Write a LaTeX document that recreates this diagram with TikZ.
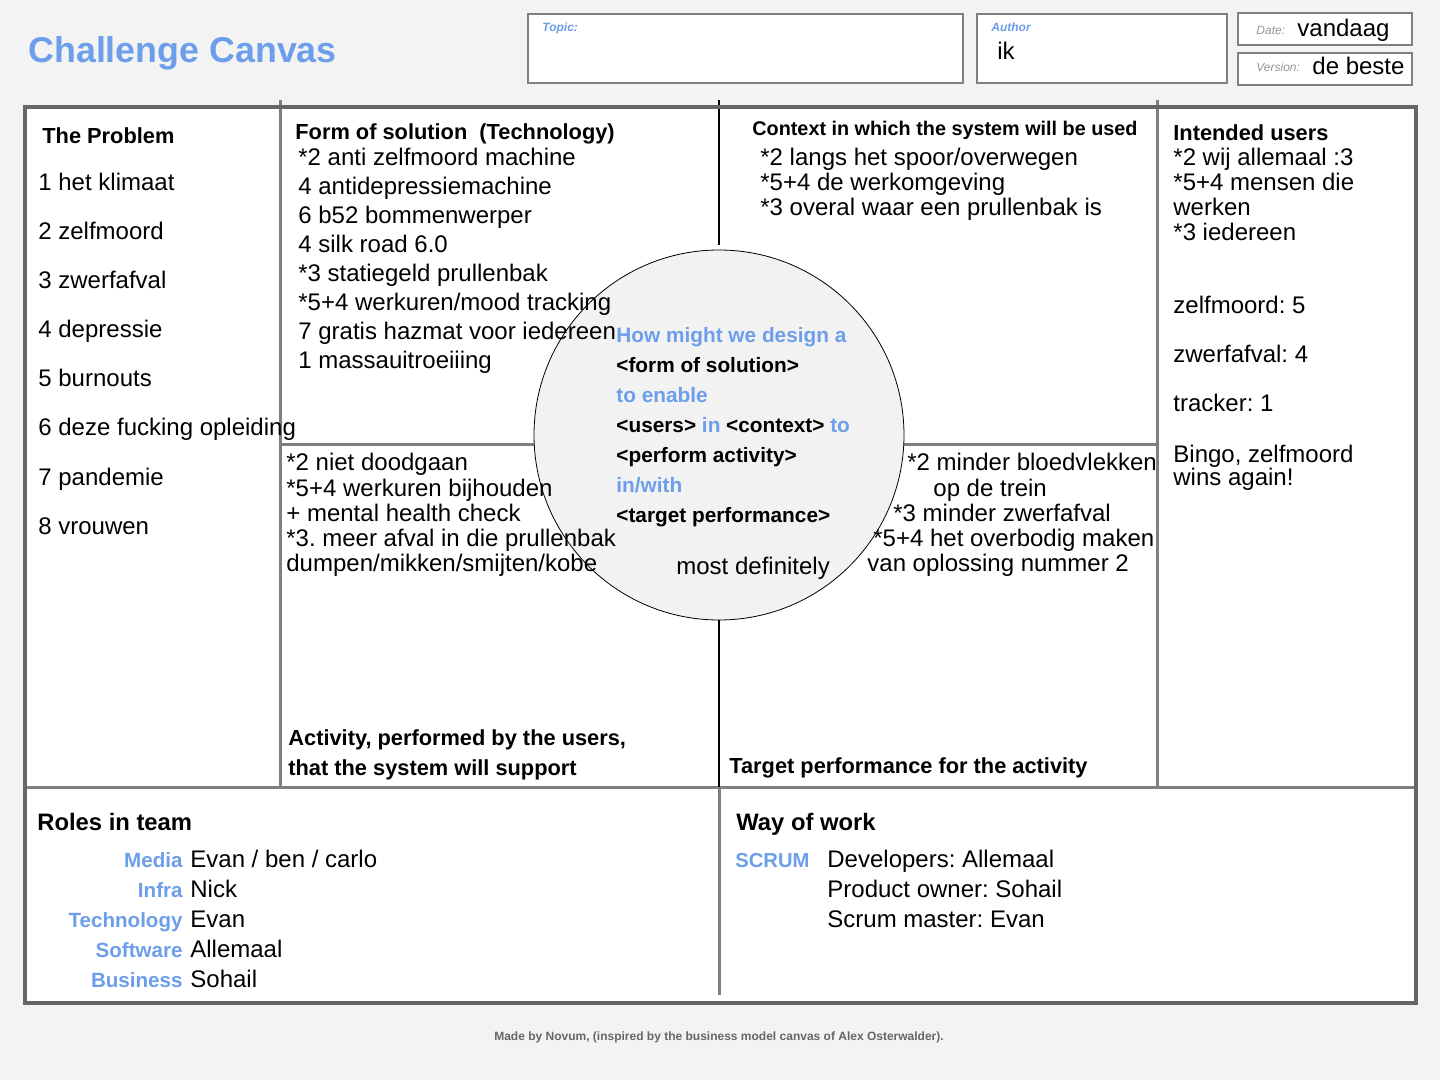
\documentclass[tikz,border=0pt]{standalone}
\usepackage{fontspec}
\setmainfont{Liberation Sans}
\usepackage{xcolor}
\usetikzlibrary{positioning}
\frenchspacing
\definecolor{canvasBlue}{RGB}{109,158,235}
\definecolor{canvasBg}{RGB}{243,243,243}
\definecolor{frameGray}{RGB}{102,102,102}
\definecolor{lineGray}{RGB}{128,128,128}
\definecolor{labelGray}{RGB}{150,150,150}
\definecolor{circleFill}{RGB}{242,242,242}
\tikzset{
  txt/.style={anchor=base west, inner sep=0pt, font=\fontsize{12pt}{14pt}\selectfont},
  head/.style={anchor=base west, inner sep=0pt, font=\fontsize{10.9pt}{13pt}\selectfont\bfseries},
  hmw/.style={anchor=base west, inner sep=0pt, font=\fontsize{10.4pt}{12pt}\selectfont\bfseries},
  role/.style={anchor=base east, inner sep=0pt, text=canvasBlue, font=\fontsize{10.3pt}{12pt}\selectfont\bfseries},
  tag/.style={anchor=base west, inner sep=0pt, font=\fontsize{6pt}{7pt}\selectfont\itshape},
  gridline/.style={line width=1.5pt, lineGray},
  thinline/.style={line width=0.6pt, black},
  infobox/.style={fill=white, draw=lineGray, line width=1pt},
}
\begin{document}
\begin{tikzpicture}[x=0.5pt, y=-0.5pt]
    \useasboundingbox (0,0) rectangle (1440,1080);
    \fill[canvasBg] (0,0) rectangle (1440,1080);
    % Header
    \node[anchor=base west, inner sep=0pt, text=canvasBlue, font=\fontsize{17.9pt}{20pt}\selectfont\bfseries] (title) at (28,63) {Challenge Canvas};
    \draw[infobox] (528,14) rectangle (963,83);
    \node[tag, font=\fontsize{6pt}{7pt}\selectfont\bfseries\itshape, text=canvasBlue] (topicLbl) at (542,32) {Topic:};
    \draw[infobox] (977,14) rectangle (1227,83);
    \node[tag, font=\fontsize{6pt}{7pt}\selectfont\bfseries\itshape, text=canvasBlue] (authorLbl) at (991,32) {Author};
    \node[txt] (authorName) at (997,60) {ik};
    \draw[infobox] (1238,13) rectangle (1412,45);
    \node[tag, text=labelGray] (dateLbl) at (1256,35) {Date:};
    \node[txt] (dateVal) at (1297,37) {vandaag};
    \draw[infobox] (1238,53) rectangle (1412,85);
    \node[tag, text=labelGray] (versionLbl) at (1256,72) {Version:};
    \node[txt] (versionVal) at (1312,75) {de beste};
    % Canvas
    \fill[white] (25,107) rectangle (1416,1003);
    \draw[gridline] (280,100) -- (280,787);
    \draw[gridline] (1157,100) -- (1157,787);
    \draw[gridline] (25,787) -- (1416,787);
    \draw[gridline] (280,445) -- (536,445);
    \draw[gridline] (903,445) -- (1157,445);
    \draw[gridline] (719,787) -- (719,995);
    \node[circle, draw, thin, fill=circleFill, minimum size=185pt, inner sep=0pt] (hmwCircle) at (719,435) {};
    \draw[thinline, shorten >=2.5pt] (719,100) -- (hmwCircle.north);
    \draw[thinline] (hmwCircle.south) -- (719,787);
    \draw[line width=2pt, frameGray] (25,107) rectangle (1416,1003);
    % The problem
    \node[head] (problemHead) at (42,144) {The Problem};
    \foreach \entry [count=\i] in {1 het klimaat, 2 zelfmoord, 3 zwerfafval, 4 depressie, 5 burnouts, 6 deze fucking opleiding, 7 pandemie, 8 vrouwen}
      \node[txt] (prob\i) at (38,{142+49*\i}) {\entry};
    % Form of solution
    \node[head] (formHead) at (295,140) {Form of solution~ (Technology)};
    \foreach \entry [count=\i] in {*2 anti zelfmoord machine, 4 antidepressiemachine, 6 b52 bommenwerper, 4 silk road 6.0, *3 statiegeld prullenbak, *5+4 werkuren/mood tracking, 7 gratis hazmat voor iedereen, 1 massauitroeiiing}
      \node[txt] (form\i) at (298,{137+29*\i}) {\entry};
    % Context
    \node[head, font=\fontsize{9.9pt}{11pt}\selectfont\bfseries] (contextHead) at (752,136) {Context in which the system will be used};
    \foreach \entry [count=\i] in {*2 langs het spoor/overwegen, *5+4 de werkomgeving, *3 overal waar een prullenbak is}
      \node[txt] (context\i) at (760,{141+25*\i}) {\entry};
    % Intended users
    \node[head] (usersHead) at (1173,141) {Intended users};
    \foreach \entry [count=\i] in {*2 wij allemaal :3, *5+4 mensen die, werken, *3 iedereen}
      \node[txt] (users\i) at (1173,{141+25*\i}) {\entry};
    \node[txt] (score1) at (1173,314) {zelfmoord: 5};
    \node[txt] (score2) at (1173,363) {zwerfafval: 4};
    \node[txt] (score3) at (1173,412) {tracker: 1};
    \node[txt] (bingo1) at (1173,462) {Bingo, zelfmoord};
    \node[txt] (bingo2) at (1173,486) {wins again!};
    % Activity
    \foreach \entry [count=\i] in {*2 niet doodgaan, *5+4 werkuren bijhouden, + mental health check, *3. meer afval in die prullenbak, dumpen/mikken/smijten/kobe}
      \node[txt] (activity\i) at (286,{446+25*\i}) {\entry};
    \node[head] (activityHead1) at (288,745) {Activity, performed by the users,};
    \node[head] (activityHead2) at (288,775) {that the system will support};
    % Target performance
    \node[txt] (target1) at (907,471) {*2 minder bloedvlekken};
    \node[txt] (target2) at (933,496) {op de trein};
    \node[txt] (target3) at (893,521) {*3 minder zwerfafval};
    \node[txt] (target4) at (873,546) {*5+4 het overbodig maken};
    \node[txt] (target5) at (867,571) {van oplossing nummer 2};
    \node[head] (targetHead) at (729,773) {Target performance for the activity};
    % How might we
    \foreach \entry [count=\i] in {\textcolor{canvasBlue}{How might we design a}, <form of solution>, \textcolor{canvasBlue}{to enable}, <users> \textcolor{canvasBlue}{in} <context> \textcolor{canvasBlue}{to}, <perform activity>, \textcolor{canvasBlue}{in/with}, <target performance>}
      \node[hmw] (hmw\i) at (616,{313+30*\i}) {\entry};
    \node[txt] (definitely) at (676,574) {most definitely};
    % Roles in team
    \node[head, font=\fontsize{11.9pt}{14pt}\selectfont\bfseries] (rolesHead) at (37,830) {Roles in team};
    \foreach \role/\who [count=\i] in {Media/{Evan / ben / carlo}, Infra/Nick, Technology/Evan, Software/Allemaal, Business/Sohail} {
      \node[role] (role\i) at (183,{837+30*\i}) {\role};
      \node[txt] (member\i) at (190,{837+30*\i}) {\who};
    }
    % Way of work
    \node[head, font=\fontsize{11.9pt}{14pt}\selectfont\bfseries] (workHead) at (736,830) {Way of work};
    \node[hmw, font=\fontsize{10.1pt}{12pt}\selectfont\bfseries, text=canvasBlue] (scrum) at (735,867) {SCRUM};
    \foreach \entry [count=\i] in {Developers: Allemaal, Product owner: Sohail, Scrum master: Evan}
      \node[txt] (scrum\i) at (827,{837+30*\i}) {\entry};
    % Credit
    \node[anchor=base, inner sep=0pt, text=frameGray, font=\fontsize{6pt}{7pt}\selectfont\bfseries] (credit) at (719,1040) {Made by Novum, (inspired by the business model canvas of Alex Osterwalder).};
\end{tikzpicture}
\end{document}
